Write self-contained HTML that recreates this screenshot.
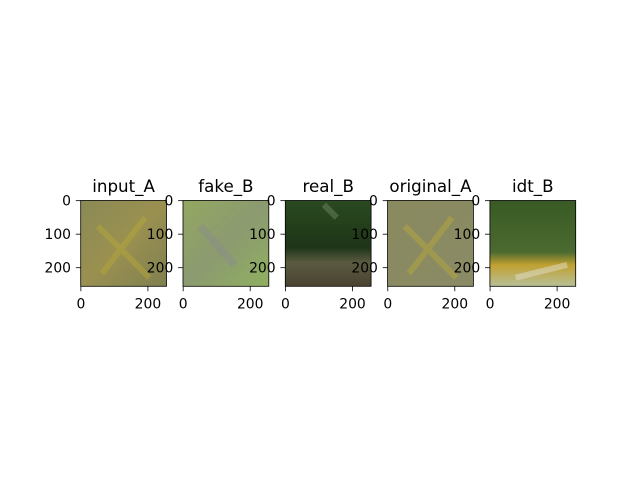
<!DOCTYPE html>
<html><head><meta charset="utf-8"><style>
html,body{margin:0;padding:0;background:#fff;}
svg{display:block;font-family:"DejaVu Sans","Liberation Sans",sans-serif;}
</style></head><body>
<svg id="fig" width="640" height="480" viewBox="0 0 640 480">
<defs>
<linearGradient id="gA" x1="0" y1="0" x2="1" y2="1"><stop offset="0" stop-color="#8a8a55"/><stop offset="0.5" stop-color="#9a9050"/><stop offset="1" stop-color="#7f8050"/></linearGradient>
<linearGradient id="gF" x1="0" y1="0" x2="1" y2="1"><stop offset="0" stop-color="#93a860"/><stop offset="0.5" stop-color="#8c9a70"/><stop offset="1" stop-color="#8fb060"/></linearGradient>
<linearGradient id="gR" x1="0" y1="0" x2="0" y2="1"><stop offset="0" stop-color="#2a4a20"/><stop offset="0.55" stop-color="#1e3518"/><stop offset="0.72" stop-color="#5a5a40"/><stop offset="1" stop-color="#4a4232"/></linearGradient>
<linearGradient id="gO" x1="0" y1="0" x2="1" y2="1"><stop offset="0" stop-color="#8a8a60"/><stop offset="1" stop-color="#8a8a65"/></linearGradient>
<linearGradient id="gI" x1="0" y1="0" x2="0" y2="1"><stop offset="0" stop-color="#3a5a25"/><stop offset="0.6" stop-color="#4a6a30"/><stop offset="0.75" stop-color="#c0a030"/><stop offset="1" stop-color="#b8c098"/></linearGradient>
</defs>
<g id="axes"></g>
</svg>
<script>
const titles = ["input_A","fake_B","real_B","original_A","idt_B"];
const fills = ["url(#gA)","url(#gF)","url(#gR)","url(#gO)","url(#gI)"];
const xTicks = [0,200];
const yTicks = [0,100,200];
const imgSize = [256,256];
const NS="http://www.w3.org/2000/svg";
const axesG=document.getElementById('axes');
const left0=80.7, step=102.3, topY=200.5, W=85.8, H=85.8;
function mk(t,a,p){const e=document.createElementNS(NS,t);for(const k in a)e.setAttribute(k,a[k]);(p||axesG).appendChild(e);return e;}
titles.forEach((tt,i)=>{
  const x0=left0+i*step;
  const sx=v=>x0+(v+0.5)/imgSize[0]*W;
  const sy=v=>topY+(v+0.5)/imgSize[1]*H;
  const ax=mk('g',{});
  
  
  const im=mk('rect',{x:x0,y:topY,width:W,height:H,fill:fills[i]},ax);
  
  
  if(i===0||i===3){
    mk('path',{d:`M${x0+W*0.2} ${topY+H*0.3} L${x0+W*0.8} ${topY+H*0.9} M${x0+W*0.75} ${topY+H*0.2} L${x0+W*0.25} ${topY+H*0.85}`,stroke:'#b8a838',"stroke-width":6,opacity:0.45,fill:'none'},ax);
  }
  if(i===1){
    mk('path',{d:`M${x0+W*0.2} ${topY+H*0.3} L${x0+W*0.6} ${topY+H*0.75}`,stroke:'#8a8a90',"stroke-width":8,opacity:0.4,fill:'none'},ax);
  }
  if(i===2){
    mk('path',{d:`M${x0+W*0.45} ${topY+H*0.05} L${x0+W*0.6} ${topY+H*0.2}`,stroke:'#90a080',"stroke-width":6,opacity:0.35,fill:'none'},ax);
  }
  if(i===4){
    mk('path',{d:`M${x0+W*0.3} ${topY+H*0.9} L${x0+W*0.9} ${topY+H*0.75}`,stroke:'#e0e0d0',"stroke-width":6,opacity:0.5,fill:'none'},ax);
  }
  mk('rect',{x:x0,y:topY,width:W,height:H,fill:'none',stroke:'#000','stroke-width':0.8},ax);
  xTicks.forEach(v=>{
    const x=sx(v);
    mk('line',{x1:x,x2:x,y1:topY+H,y2:topY+H+4.9,stroke:'#000','stroke-width':0.8},ax);
    const t=mk('text',{x:x,y:topY+H+22,"font-size":13.9,"text-anchor":'middle'},ax);t.textContent=v;
    
    
  });
  yTicks.forEach(v=>{
    const y=sy(v);
    mk('line',{x1:x0-4.9,x2:x0,y1:y,y2:y,stroke:'#000','stroke-width':0.8},ax);
    const t=mk('text',{x:x0-9.7,y:y+5,"font-size":13.9,"text-anchor":'end'},ax);t.textContent=v;
    
    
  });
  const ti=mk('text',{x:x0+W/2,y:topY-8.3,"font-size":16.7,"text-anchor":'middle'},ax);ti.textContent=tt;
  
  
});
</script>
</body></html>
